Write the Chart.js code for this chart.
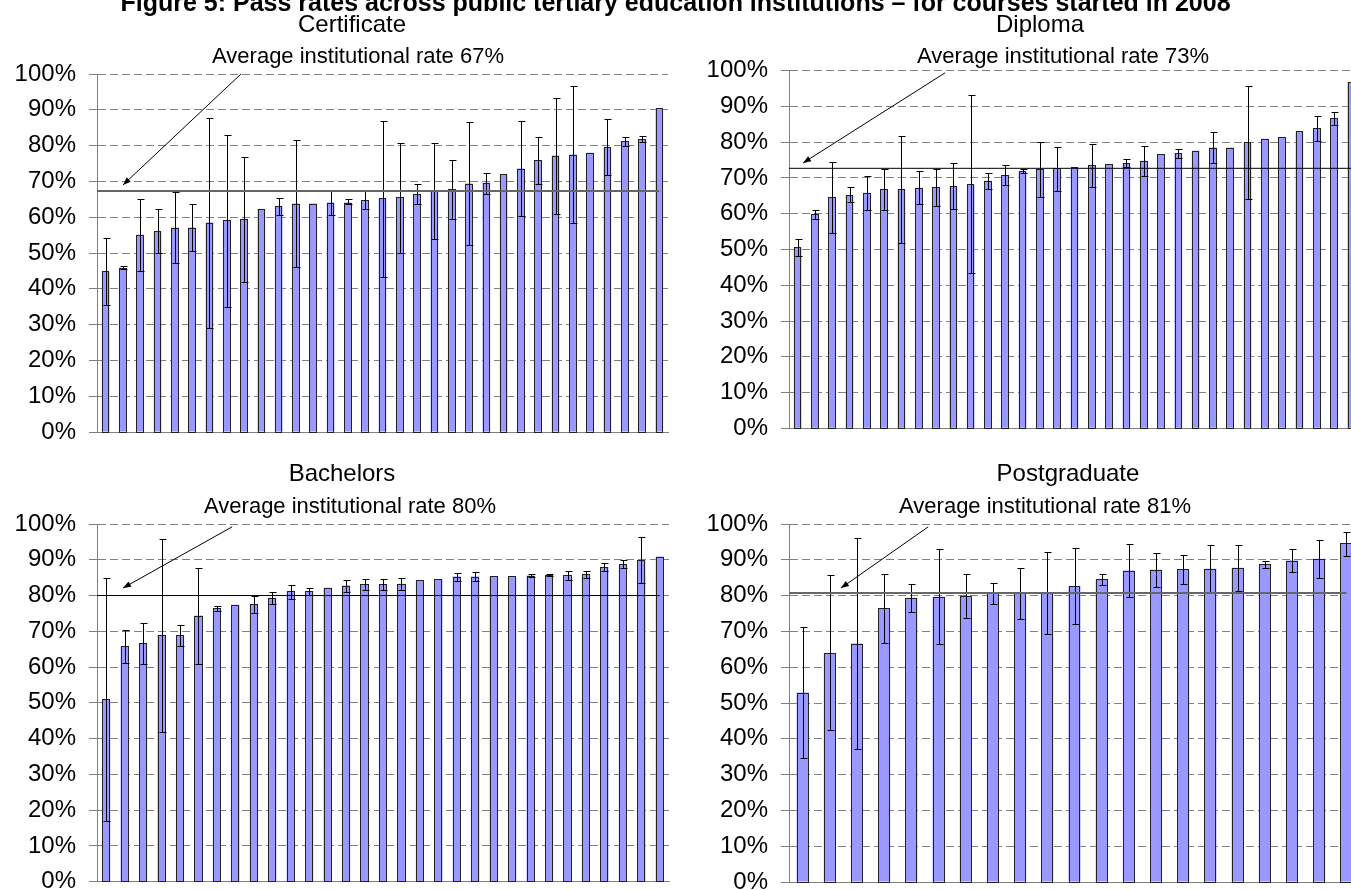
<!DOCTYPE html>
<html>
<head>
<meta charset="utf-8">
<title>Pass rates across public tertiary education institutions</title>
<script src="https://cdn.jsdelivr.net/npm/chart.js@4.4.1/dist/chart.umd.min.js"></script>
<style>
  html, body { margin: 0; padding: 0; background: #fff; overflow: hidden; }
  #page { position: relative; width: 1351px; height: 890px; overflow: hidden; }
  #page canvas { position: absolute; }
  #figTitle {
    position: absolute; left: 0; top: -10px; width: 1351px; text-align: center;
    font: bold 25px 'Liberation Sans', Arial, sans-serif; line-height: 25px;
    white-space: nowrap; z-index: 2; color: #000;
  }
</style>
</head>
<body>
<div id="page">
  <div id="figTitle">Figure 5: Pass rates across public tertiary education institutions – for courses started in 2008</div>
  <canvas id="cCert" width="680" height="445" style="left:0;top:0"></canvas>
  <canvas id="cDip" width="700" height="445" style="left:680px;top:0"></canvas>
  <canvas id="cBach" width="680" height="445" style="left:0;top:445px"></canvas>
  <canvas id="cPost" width="700" height="445" style="left:680px;top:445px"></canvas>
</div>
<script>
/* ---- data (pass rate %, error bar high / low, null = no bar) ---- */
const yTicks = [0, 10, 20, 30, 40, 50, 60, 70, 80, 90, 100];

const certRates = [44.9, 45.9, 55.1, 56.1, 57.1, 57.1, 58.5, 59.1, 59.4, 62.3, 63.1, 63.8, 63.8, 64.1, 64.1, 64.8, 65.3,
  65.6, 66.4, 67.3, 67.8, 69.4, 69.6, 72.0, 73.6, 75.9, 77.2, 77.5, 78.0, 79.5, 81.2, 81.8, 90.4];
const certHigh = [54.1, 46.4, 65.0, 62.2, 66.9, 63.6, 87.8, 83.1, 76.7, null, 65.5, 81.5, null, 67.4, 65.0, 67.4, 87.0,
  80.7, 69.2, 80.7, 76.1, 86.6, 72.4, null, 86.8, 82.3, 93.4, 96.6, null, 87.3, 82.5, 82.8, null];
const certLow = [35.6, 45.4, 45.1, 50.0, 47.3, 50.6, 29.1, 34.9, 42.0, null, 60.6, 46.2, null, 60.5, 63.6, 62.2, 43.3,
  50.1, 63.7, 53.8, 59.6, 52.2, 66.6, null, 60.4, 69.4, 60.9, 58.5, null, 71.9, 79.8, 80.9, null];
const certAvg = 67.3;

const dipRates = [50.6, 59.8, 64.7, 65.2, 65.9, 66.8, 66.8, 67.3, 67.4, 67.7, 68.2, 69.2, 70.8, 71.9, 72.5, 72.7, 73.1,
  73.6, 73.9, 74.2, 74.8, 76.7, 77.0, 77.6, 78.5, 78.5, 80.0, 81.0, 81.4, 83.0, 83.9, 86.7, 96.8];
const dipHigh = [52.8, 61.1, 74.6, 67.4, 70.5, 72.6, 81.8, 71.9, 72.5, 74.1, 93.1, 71.3, 73.7, 72.5, 80.2, 78.7, null,
  79.6, null, 75.2, 79.0, null, 78.2, null, 82.9, null, 95.8, null, null, null, 87.4, 88.5, null];
const dipLow = [48.2, 58.4, 54.6, 63.2, 61.0, 61.0, 51.9, 62.6, 62.3, 61.2, 43.3, 66.8, 67.9, 71.3, 64.6, 66.4, null,
  67.6, null, 73.1, 70.5, null, 75.7, null, 74.1, null, 64.1, null, null, null, 80.3, 84.7, null];
const dipAvg = 72.7;

const bachRates = [51.0, 65.8, 66.7, 68.9, 68.9, 74.4, 76.4, 77.4, 77.5, 79.4, 81.2, 81.2, 82.2, 82.8, 83.2, 83.2,
  83.3, 84.3, 84.5, 85.3, 85.3, 85.4, 85.4, 85.6, 85.7, 85.7, 85.9, 88.0, 88.8, 89.9, 90.9];
const bachHigh = [85.0, 70.4, 72.4, 95.9, 71.9, 87.6, 77.1, null, 79.8, 81.0, 82.9, 82.1, null, 84.4, 84.5, 84.5,
  84.8, null, null, 86.2, 86.6, null, null, 86.0, 85.9, 87.0, 86.8, 89.0, 89.9, 96.5, null];
const bachLow = [17.1, 61.1, 61.0, 41.8, 65.9, 61.0, 75.8, null, 75.2, 77.6, 79.1, 80.1, null, 81.1, 81.5, 81.5,
  81.5, null, null, 84.2, 84.0, null, null, 85.2, 85.5, 84.4, 85.0, 87.0, 87.7, 83.4, null];
const bachAvg = 80.0;

const postRates = [52.9, 64.0, 66.6, 76.4, 79.4, 79.7, 79.9, 80.6, 80.6, 80.6, 82.7, 84.5, 87.0, 87.2, 87.3, 87.5,
  87.8, 88.7, 89.8, 90.3, 94.6];
const postHigh = [71.3, 85.7, 96.2, 86.1, 83.3, 92.9, 86.1, 83.6, 87.8, 92.1, 93.4, 86.1, 94.5, 92.0, 91.4, 94.2,
  94.1, 89.7, 93.0, 95.6, 97.9];
const postLow = [34.5, 42.4, 37.2, 66.8, 75.4, 66.4, 73.8, 77.6, 73.6, 69.4, 72.2, 82.9, 79.7, 82.4, 83.3, 80.6,
  81.4, 87.6, 86.6, 84.8, 91.1];
const postAvg = 80.7;

const FONT = "'Liberation Sans', Arial, sans-serif";

/* bar outlines, error bars, average line, arrow and texts of one panel */
function panelDecor(p) {
  return {
    id: 'panelDecor',
    afterDatasetsDraw(chart) {
      const { ctx, chartArea, scales: { x, y } } = chart;
      const bars = chart.getDatasetMeta(0).data;
      ctx.save();

      // crisp bar outlines on the library's bar geometry
      ctx.strokeStyle = '#222';
      ctx.lineWidth = 1;
      bars.forEach(b => {
        const l = Math.round(b.x - b.width / 2), r = Math.round(b.x + b.width / 2);
        const t = Math.round(b.y), btm = Math.round(b.base);
        ctx.strokeRect(l + 0.5, t + 0.5, r - l - 1, btm - t);
      });

      // error bars
      ctx.strokeStyle = '#000';
      bars.forEach((b, i) => {
        if (p.high[i] == null) return;
        const bx = Math.round(b.x) + 0.5;
        const yh = Math.round(y.getPixelForValue(p.high[i])) + 0.5;
        const yl = Math.round(y.getPixelForValue(p.low[i])) + 0.5;
        ctx.beginPath();
        ctx.moveTo(bx, yh); ctx.lineTo(bx, yl);
        ctx.moveTo(bx - 3, yh); ctx.lineTo(bx + 4, yh);
        ctx.moveTo(bx - 3, yl); ctx.lineTo(bx + 4, yl);
        ctx.stroke();
      });

      // average line, from the axis to the last bar
      const ya = y.getPixelForValue(p.avg);
      ctx.strokeStyle = p.avgColor;
      ctx.lineWidth = p.avgWidth;
      ctx.beginPath();
      ctx.moveTo(chartArea.left, ya);
      ctx.lineTo(x.getPixelForValue(p.rates.length - 1), ya);
      ctx.stroke();

      // arrow to the average line
      const x1 = x.getPixelForValue(p.arrowFrom[0]), y1 = y.getPixelForValue(p.arrowFrom[1]);
      const x2 = x.getPixelForValue(p.arrowTo[0]), y2 = y.getPixelForValue(p.arrowTo[1]);
      const ang = Math.atan2(y2 - y1, x2 - x1);
      ctx.strokeStyle = '#000';
      ctx.fillStyle = '#000';
      ctx.lineWidth = 1;
      ctx.beginPath();
      ctx.moveTo(x1, y1); ctx.lineTo(x2, y2);
      ctx.stroke();
      ctx.beginPath();
      ctx.moveTo(x2, y2);
      ctx.lineTo(x2 - 8 * Math.cos(ang) + 3 * Math.sin(ang), y2 - 8 * Math.sin(ang) - 3 * Math.cos(ang));
      ctx.lineTo(x2 - 8 * Math.cos(ang) - 3 * Math.sin(ang), y2 - 8 * Math.sin(ang) + 3 * Math.cos(ang));
      ctx.closePath();
      ctx.fill();

      // panel title and annotation text
      ctx.textAlign = 'center';
      ctx.textBaseline = 'middle';
      ctx.font = '24px ' + FONT;
      ctx.fillText(p.title, p.titlePos[0], p.titlePos[1]);
      ctx.font = '22px ' + FONT;
      ctx.fillText(p.note, p.notePos[0], p.notePos[1]);
      ctx.restore();
    }
  };
}

function makePanel(id, p) {
  const yWidth = p.axisX;
  return new Chart(document.getElementById(id), {
    type: 'bar',
    data: {
      labels: p.rates.map((_, i) => i + 1),
      datasets: [{
        data: p.rates,
        backgroundColor: '#9999FF',
        borderWidth: 0,
        categoryPercentage: 1,
        barPercentage: 0.44
      }]
    },
    options: {
      responsive: false,
      animation: false,
      events: [],
      layout: { padding: p.padding },
      plugins: { legend: { display: false }, tooltip: { enabled: false }, title: { display: false } },
      scales: {
        x: {
          offset: true,
          grid: { display: false },
          border: { display: true, color: '#808080', width: 1 },
          ticks: { display: false },
          afterFit(s) { s.height = 0; s.paddingLeft = 0; s.paddingRight = 0; }
        },
        y: {
          min: 0, max: 100,
          afterBuildTicks(s) { s.ticks = yTicks.map(v => ({ value: v })); },
          ticks: {
            callback: v => v + '%',
            color: '#000',
            font: { family: FONT, size: 24 },
            padding: 13
          },
          grid: { color: '#808080', lineWidth: 1, tickLength: 8, tickColor: '#808080', tickBorderDash: [] },
          border: { display: true, color: '#808080', width: 1, dash: [8, 4] },
          afterFit(s) { s.width = yWidth; s.paddingTop = 0; s.paddingBottom = 0; }
        }
      }
    },
    plugins: [panelDecor(p)]
  });
}

makePanel('cCert', {
  rates: certRates, high: certHigh, low: certLow, avg: certAvg,
  avgColor: '#666', avgWidth: 2,
  title: 'Certificate', titlePos: [352, 25],
  note: 'Average institutional rate 67%', notePos: [358, 57],
  arrowFrom: [7.82, 100], arrowTo: [1.0, 69.0],
  axisX: 97, padding: { left: 0, top: 74, right: 12, bottom: 13 }
});

makePanel('cDip', {
  rates: dipRates, high: dipHigh, low: dipLow, avg: dipAvg,
  avgColor: '#000', avgWidth: 1,
  title: 'Diploma', titlePos: [360, 25],
  note: 'Average institutional rate 73%', notePos: [383, 57],
  arrowFrom: [8.52, 99.4], arrowTo: [0.31, 74.2],
  axisX: 109, padding: { left: 0, top: 70.7, right: 20, bottom: 16.7 }
});

makePanel('cBach', {
  rates: bachRates, high: bachHigh, low: bachLow, avg: bachAvg,
  avgColor: '#000', avgWidth: 1,
  title: 'Bachelors', titlePos: [342, 29],
  note: 'Average institutional rate 80%', notePos: [350, 62],
  arrowFrom: [6.82, 99.2], arrowTo: [0.91, 82.1],
  axisX: 97, padding: { left: 0, top: 79, right: 11, bottom: 8.3 }
});

makePanel('cPost', {
  rates: postRates, high: postHigh, low: postLow, avg: postAvg,
  avgColor: '#666', avgWidth: 2,
  title: 'Postgraduate', titlePos: [388, 29],
  note: 'Average institutional rate 81%', notePos: [365, 62],
  arrowFrom: [4.62, 99.2], arrowTo: [1.41, 82.1],
  axisX: 109, padding: { left: 0, top: 79, right: 20, bottom: 8 }
});
</script>
</body>
</html>
